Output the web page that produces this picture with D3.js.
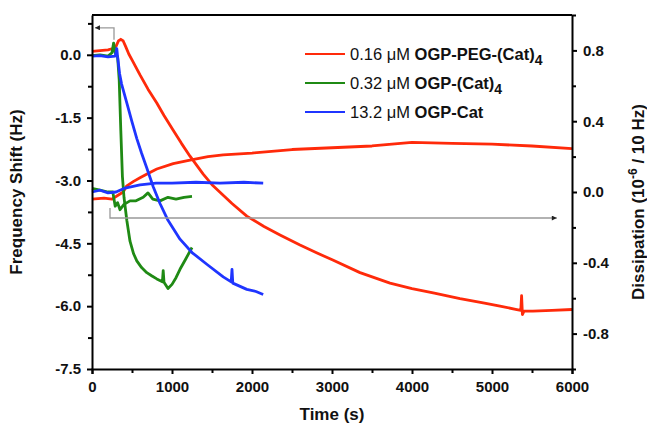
<!DOCTYPE html>
<html>
<head>
<meta charset="utf-8">
<script src="https://cdnjs.cloudflare.com/ajax/libs/d3/7.8.5/d3.min.js"></script>
<style>
  body { margin: 0; background: #fff; }
  svg { font-family: "Liberation Sans", Arial, sans-serif; }
</style>
</head>
<body>
<div class="chart"></div>
<script>
// values: [time (s), value]
const redFreq = [[0,0.08],[100,0.1],[200,0.12],[260,0.15],[300,0.2],[330,0.33],[360,0.37],[390,0.33],[420,0.2],[460,0.02],[500,-0.12],[550,-0.3],[600,-0.48],[700,-0.82],[810,-1.15],[900,-1.45],[1015,-1.8],[1120,-2.12],[1225,-2.42],[1390,-2.85],[1500,-3.1],[1600,-3.28],[1750,-3.55],[1935,-3.85],[2150,-4.1],[2350,-4.3],[2600,-4.54],[2800,-4.72],[3010,-4.9],[3350,-5.2],[3725,-5.45],[4000,-5.58],[4265,-5.68],[4600,-5.82],[4890,-5.92],[5100,-6.0],[5310,-6.08],[5360,-6.1],[5370,-5.75],[5380,-6.2],[5400,-6.12],[5510,-6.12],[5750,-6.1],[6000,-6.08]];
const greenFreq = [[0,-0.02],[100,0.0],[200,-0.03],[250,0.05],[270,0.28],[290,0.05],[320,-0.05],[340,-0.6],[360,-1.8],[380,-2.9],[400,-3.4],[435,-3.95],[475,-4.45],[520,-4.75],[560,-4.92],[620,-5.08],[685,-5.2],[750,-5.28],[810,-5.35],[880,-5.42],[890,-5.15],[900,-5.43],[950,-5.58],[1000,-5.48],[1050,-5.32],[1100,-5.12],[1170,-4.88],[1250,-4.6]];
const blueFreq = [[0,-0.03],[100,-0.02],[200,-0.05],[290,-0.03],[310,0.15],[320,-0.05],[345,-0.45],[370,-0.7],[435,-1.15],[500,-1.6],[560,-2.0],[620,-2.35],[685,-2.7],[765,-3.15],[850,-3.55],[950,-3.95],[1100,-4.4],[1250,-4.72],[1435,-5.0],[1640,-5.3],[1740,-5.42],[1750,-5.12],[1760,-5.45],[1935,-5.6],[2050,-5.65],[2140,-5.72]];

const redDiss = [[0,-0.04],[150,-0.035],[250,-0.04],[320,-0.02],[390,0.0],[435,0.035],[520,0.06],[600,0.08],[700,0.105],[810,0.13],[1015,0.16],[1225,0.18],[1450,0.2],[1640,0.21],[2000,0.22],[2500,0.24],[3000,0.25],[3500,0.26],[4000,0.28],[4500,0.275],[5000,0.27],[5500,0.26],[6000,0.245]];
const greenDiss = [[0,0.02],[100,0.01],[200,0.0],[260,0.0],[290,-0.08],[320,-0.06],[350,-0.1],[400,-0.07],[475,-0.05],[550,-0.05],[640,-0.03],[700,-0.005],[760,-0.04],[850,-0.05],[950,-0.03],[1050,-0.04],[1150,-0.03],[1250,-0.025]];
const blueDiss = [[0,0.0],[100,0.01],[200,-0.005],[300,0.0],[400,0.02],[500,0.03],[600,0.04],[800,0.05],[1000,0.05],[1300,0.055],[1600,0.05],[1900,0.055],[2140,0.05]];

const xTicks = [0, 1000, 2000, 3000, 4000, 5000, 6000];
const xMinor = [500, 1500, 2500, 3500, 4500, 5500];
const freqTicks = [-7.5, -6, -4.5, -3, -1.5, 0];
const freqMinor = [-6.75, -5.25, -3.75, -2.25, -0.75, 0.75];
const dissTicks = [-0.8, -0.4, 0, 0.4, 0.8];
const dissMinor = [-1, -0.6, -0.2, 0.2, 0.6, 1];

const legendNames = ["0.16 \u03bcM ", "0.32 \u03bcM ", "13.2 \u03bcM "];
const legendBold = ["OGP-PEG-(Cat)", "OGP-(Cat)", "OGP-Cat"];
const legendSub = ["4", "4", ""];
const colors = ["#ff2a0a", "#1f8a14", "#1f35ff"];

// arrows: [time, frequency] / [time, dissipation]
const freqArrow = [[275, 0.36], [275, 0.645], [37, 0.645]];
const dissArrow = [[225, -0.09], [225, -0.147], [5810, -0.147]];

const margin = {top: 15, left: 92, right: 75, bottom: 63};
const width = 647 - margin.left - margin.right;
const height = 432 - margin.top - margin.bottom;

const svg = d3.select(".chart").append("svg")
    .attr("width", 647)
    .attr("height", 432)
    .append("g")
    .attr("transform", "translate(" + margin.left + "," + margin.top + ")");

const xScale = d3.scaleLinear().domain([0, 6000]).range([0, width]);
const yFreq = d3.scaleLinear().domain([-7.5, 0.95]).range([height, 0]);
const yDiss = d3.scaleLinear().domain([-1, 1]).range([height, 0]);

// frame top
svg.append("line")
    .attr("x1", 0).attr("x2", width)
    .attr("y1", 0).attr("y2", 0)
    .attr("stroke", "#000").attr("stroke-width", 2);

// curves
const lineF = d3.line().x(d => xScale(d[0])).y(d => yFreq(d[1]));
const lineD = d3.line().x(d => xScale(d[0])).y(d => yDiss(d[1]));

const series = [
    {data: redFreq, line: lineF, c: 0},
    {data: redDiss, line: lineD, c: 0},
    {data: greenFreq, line: lineF, c: 1},
    {data: greenDiss, line: lineD, c: 1},
    {data: blueFreq, line: lineF, c: 2},
    {data: blueDiss, line: lineD, c: 2}
];

series.forEach(s => {
    svg.append("path")
        .datum(s.data)
        .attr("d", s.line)
        .attr("fill", "none")
        .attr("stroke", colors[s.c])
        .attr("stroke-width", 2.8)
        .attr("stroke-linejoin", "round");
});

// arrows
const defs = svg.append("defs");
defs.append("marker")
    .attr("id", "head")
    .attr("viewBox", "0 0 10 10")
    .attr("refX", 10).attr("refY", 5)
    .attr("markerWidth", 7).attr("markerHeight", 5)
    .attr("markerUnits", "userSpaceOnUse")
    .attr("orient", "auto")
    .append("path")
    .attr("d", "M0,0L10,5L0,10z")
    .attr("fill", "#222");

svg.append("path")
    .datum(freqArrow)
    .attr("d", lineF)
    .attr("fill", "none")
    .attr("stroke", "#999")
    .attr("stroke-width", 1.3)
    .attr("marker-end", "url(#head)");

svg.append("path")
    .datum(dissArrow)
    .attr("d", lineD)
    .attr("fill", "none")
    .attr("stroke", "#999")
    .attr("stroke-width", 1.3)
    .attr("marker-end", "url(#head)");

// axes
function styleAxis(g) {
    g.select(".domain").attr("stroke-width", 2);
    g.selectAll(".tick line").attr("stroke-width", 2);
    g.selectAll("text")
        .attr("font-size", 15)
        .attr("font-weight", 700)
        .attr("fill", "#111");
}

const fmt = d => d.toFixed(1);

svg.append("g")
    .attr("class", "axis x-axis")
    .attr("transform", `translate(0, ${height})`)
    .call(d3.axisBottom(xScale).tickValues(xTicks).tickFormat(d3.format("d")).tickSize(5).tickPadding(7))
    .call(styleAxis);
svg.append("g")
    .attr("transform", `translate(0, ${height})`)
    .call(d3.axisBottom(xScale).tickValues(xMinor).tickFormat("").tickSize(4))
    .call(g => g.select(".domain").remove())
    .call(g => g.selectAll(".tick line").attr("stroke-width", 2));

svg.append("g")
    .attr("class", "axis y-axis")
    .call(d3.axisLeft(yFreq).tickValues(freqTicks).tickFormat(fmt).tickSize(5).tickSizeOuter(0).tickPadding(6))
    .call(styleAxis);
svg.append("g")
    .call(d3.axisLeft(yFreq).tickValues(freqMinor).tickFormat("").tickSize(4))
    .call(g => g.select(".domain").remove())
    .call(g => g.selectAll(".tick line").attr("stroke-width", 2));

svg.append("g")
    .attr("class", "axis y2-axis")
    .attr("transform", `translate(${width}, 0)`)
    .call(d3.axisRight(yDiss).tickValues(dissTicks).tickFormat(fmt).tickSize(5).tickSizeOuter(0).tickPadding(6))
    .call(styleAxis);
svg.append("g")
    .attr("transform", `translate(${width}, 0)`)
    .call(d3.axisRight(yDiss).tickValues(dissMinor).tickFormat("").tickSize(4))
    .call(g => g.select(".domain").remove())
    .call(g => g.selectAll(".tick line").attr("stroke-width", 2));

// axis titles
svg.append("text")
    .attr("x", width / 2)
    .attr("y", height + 51)
    .attr("text-anchor", "middle")
    .attr("font-size", 17)
    .attr("font-weight", 700)
    .attr("fill", "#111")
    .text("Time (s)");

svg.append("text")
    .attr("transform", `translate(${-70}, ${height / 2}) rotate(-90)`)
    .attr("text-anchor", "middle")
    .attr("font-size", 17)
    .attr("font-weight", 700)
    .attr("fill", "#111")
    .text("Frequency Shift (Hz)");

const rLabel = svg.append("text")
    .attr("transform", `translate(${width + 72}, ${height / 2 + 10}) rotate(-90)`)
    .attr("text-anchor", "middle")
    .attr("font-size", 17)
    .attr("font-weight", 700)
    .attr("fill", "#111");
rLabel.append("tspan").text("Dissipation (10");
rLabel.append("tspan").attr("dy", -7).attr("font-size", 12).text("-6");
rLabel.append("tspan").attr("dy", 7).text(" / 10 Hz)");

// legend
const legend = svg.append("g").attr("transform", "translate(213, 39)");
legendNames.forEach((name, i) => {
    const row = legend.append("g").attr("transform", `translate(0, ${i * 29})`);
    row.append("line")
        .attr("x1", 0).attr("x2", 40)
        .attr("stroke", colors[i]).attr("stroke-width", 2);
    const t = row.append("text")
        .attr("x", 45).attr("y", 6)
        .attr("font-size", 16.5)
        .attr("fill", "#111");
    t.append("tspan").text(name);
    t.append("tspan").attr("font-weight", 700).text(legendBold[i]);
    if (legendSub[i]) {
        t.append("tspan").attr("font-weight", 700).attr("font-size", 14)
            .attr("dy", 5).text(legendSub[i]);
    }
});
</script>
</body>
</html>
